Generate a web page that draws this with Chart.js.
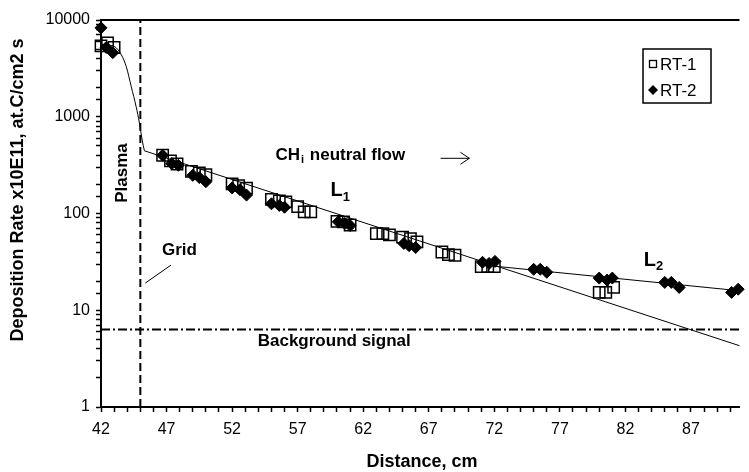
<!DOCTYPE html>
<html>
<head>
<meta charset="utf-8">
<script src="https://cdn.jsdelivr.net/npm/chart.js@4.4.1/dist/chart.umd.min.js"></script>
<style>
  html, body { margin: 0; padding: 0; background: #fff; }
  #wrap { width: 749px; height: 472px; position: relative; }
</style>
</head>
<body>
<div id="wrap"><canvas id="myChart"></canvas></div>
<script>
// RT-1 (open squares)
var rt1X = [42.0, 42.5, 43.0, 46.7, 47.3, 47.8, 48.9, 49.5, 50.0, 52.0, 52.5, 53.1, 55.0, 55.6, 56.1, 57.0, 57.5, 58.0,
            60.0, 60.5, 61.0, 63.0, 63.5, 64.0, 65.0, 65.6, 66.1, 68.0, 68.5, 69.0, 71.0, 71.5, 72.0, 80.0, 80.5, 81.1];
var rt1Y = [5400, 5800, 5200, 400, 350, 325, 272, 262, 252, 202, 194, 183, 140, 135, 132, 118, 104, 104,
            83, 82, 76, 62, 62, 60, 57, 55, 51, 40, 37.5, 37, 28.3, 28.3, 28.3, 15.3, 15.3, 17.2];
// RT-2 (filled diamonds)
var rt2X = [42.0, 42.4, 42.9, 46.7, 47.4, 47.9, 49.0, 49.5, 50.0, 52.0, 52.6, 53.1, 55.0, 55.6, 56.0, 60.1, 60.6, 61.0,
            65.1, 65.5, 66.0, 71.1, 71.6, 72.05, 75.0, 75.5, 76.0, 80.0, 80.6, 81.0, 85.0, 85.5, 86.1, 90.1, 90.6];
var rt2Y = [8300, 5200, 4600, 400, 328, 315, 248, 235, 213, 184, 176, 155, 126, 121, 116, 82, 79, 75,
            49, 46.5, 44.5, 31.3, 30.5, 32, 26.5, 26.5, 24.7, 21.5, 20.5, 21.5, 19.4, 19.4, 17.2, 15.3, 16.5];
// plasma fall-off curve, then the two fitted lines
var curveX = [42.0, 42.5, 43.05, 43.56, 43.93, 44.31, 44.68, 44.93, 45.14, 45.31];
var curveY = [5600, 5500, 5300, 4350, 3290, 2040, 1270, 861, 574, 445];
var l1X = [45.31, 90.7];
var l1Y = [445, 4.3];
var l2X = [71.5, 90.7];
var l2Y = [29.0, 15.9];
// grid position, background level, pointer to "Grid" label
var gridX = [45, 45];
var gridY = [1, 10000];
var bgX = [42, 90.7];
var bgY = [6.33, 6.33];
var ptrX = [45.38, 47.34];
var ptrY = [19.1, 29.3];

var xMin = 42, xMax = 90.7;
var yMin = 1, yMax = 10000;
var FONT = '"Liberation Sans", Arial, sans-serif';

function pts(xs, ys) {
    return xs.map(function(x, i) { return {x: x, y: ys[i]}; });
}

function lineSet(label, xs, ys, opts) {
    var d = {
        label: label,
        data: pts(xs, ys),
        showLine: true,
        borderColor: '#000',
        borderWidth: 1,
        pointRadius: 0,
        fill: false,
        order: 5,
        clip: false
    };
    for (var k in opts) d[k] = opts[k];
    return d;
}

var extras = {
    id: 'extras',
    afterDraw: function(chart) {
        var ctx = chart.ctx, xs = chart.scales.x, ys = chart.scales.y, area = chart.chartArea;
        function px(v) { return xs.getPixelForValue(v); }
        function py(v) { return ys.getPixelForValue(v); }
        ctx.save();
        ctx.strokeStyle = '#000';
        ctx.fillStyle = '#000';
        // top frame line
        ctx.lineWidth = 2;
        ctx.beginPath();
        ctx.moveTo(area.left, area.top);
        ctx.lineTo(area.right, area.top);
        ctx.stroke();

        // axis titles
        ctx.font = 'bold 18px ' + FONT;
        ctx.textAlign = 'center';
        ctx.textBaseline = 'middle';
        ctx.fillText('Distance, cm', 422, 462);
        ctx.save();
        ctx.translate(18.5, 190);
        ctx.rotate(-Math.PI / 2);
        ctx.fillText('Deposition Rate x10E11, at.C/cm2 s', 0, 0);
        ctx.restore();

        // annotations
        ctx.font = 'bold 17px ' + FONT;
        ctx.save();
        ctx.translate(px(43.62), py(262));
        ctx.rotate(-Math.PI / 2);
        ctx.fillText('Plasma', 0, 0);
        ctx.restore();
        ctx.fillText('Grid', px(47.98), py(41.9));
        ctx.fillText('Background signal', px(59.79), py(4.79));

        ctx.textAlign = 'left';
        var x0 = px(55.31), y0 = py(402);
        ctx.fillText('CH', x0, y0);
        var w = ctx.measureText('CH').width;
        ctx.font = 'bold 11px ' + FONT;
        ctx.fillText('i', x0 + w + 1, y0 + 5);
        var wi = ctx.measureText('i').width;
        ctx.font = 'bold 17px ' + FONT;
        ctx.fillText(' neutral flow', x0 + w + wi + 2, y0);

        // arrow
        var ay = py(372), ax1 = px(67.9), ax2 = px(70.1);
        ctx.lineWidth = 1;
        ctx.beginPath();
        ctx.moveTo(ax1, ay); ctx.lineTo(ax2, ay);
        ctx.moveTo(ax2 - 9, ay - 6); ctx.lineTo(ax2, ay); ctx.lineTo(ax2 - 9, ay + 6);
        ctx.stroke();

        // L1 / L2 labels
        function lab(sub, d, v) {
            var lx = px(d), ly = py(v);
            ctx.font = 'bold 20px ' + FONT;
            ctx.fillText('L', lx, ly);
            var lw = ctx.measureText('L').width;
            ctx.font = 'bold 13px ' + FONT;
            ctx.fillText(sub, lx + lw, ly + 6);
        }
        lab('1', 59.5, 171);
        lab('2', 83.4, 33);

        // legend box
        ctx.lineWidth = 1.5;
        ctx.strokeRect(643, 49, 68, 54);
        ctx.lineWidth = 1.3;
        ctx.strokeRect(649.5, 60.5, 7, 7);
        ctx.beginPath();
        ctx.moveTo(653, 85); ctx.lineTo(658, 90); ctx.lineTo(653, 95); ctx.lineTo(648, 90);
        ctx.closePath();
        ctx.fill();
        ctx.font = '17px ' + FONT;
        ctx.textAlign = 'left';
        ctx.fillText('RT-1', 660, 65);
        ctx.fillText('RT-2', 660, 91);
        ctx.restore();
    }
};

(function() {
    var canvas = document.getElementById('myChart');
    var ctx = canvas.getContext('2d');

    var myChart = new Chart(ctx, {
        type: 'scatter',
        data: {
            datasets: [
                {
                    label: 'RT-2',
                    data: pts(rt2X, rt2Y),
                    pointStyle: 'rectRot',
                    pointRadius: 6,
                    backgroundColor: '#000',
                    borderColor: '#000',
                    borderWidth: 1,
                    order: 0,
                    clip: false
                },
                {
                    label: 'RT-1',
                    data: pts(rt1X, rt1Y),
                    pointStyle: 'rect',
                    pointRadius: 8,
                    backgroundColor: 'rgba(255,255,255,0)',
                    borderColor: '#000',
                    borderWidth: 1.5,
                    order: 1,
                    clip: false
                },
                lineSet('curve', curveX, curveY, {cubicInterpolationMode: 'monotone'}),
                lineSet('L1', l1X, l1Y, {}),
                lineSet('L2', l2X, l2Y, {}),
                lineSet('Grid', gridX, gridY, {borderWidth: 2, borderDash: [8, 4]}),
                lineSet('Background', bgX, bgY, {borderWidth: 2, borderDash: [9, 3, 2, 3]}),
                lineSet('pointer', ptrX, ptrY, {})
            ]
        },
        options: {
            responsive: true,
            maintainAspectRatio: false,
            animation: false,
            layout: { padding: { left: 0, right: 0, top: 20, bottom: 0 } },
            plugins: {
                legend: { display: false },
                tooltip: { enabled: false }
            },
            scales: {
                x: {
                    type: 'linear',
                    min: xMin,
                    max: xMax,
                    afterBuildTicks: function(scale) {
                        var t = [];
                        for (var v = 42; v <= 90; v++) t.push({value: v});
                        scale.ticks = t;
                    },
                    afterFit: function(scale) { scale.height = 65; },
                    ticks: {
                        autoSkip: false,
                        maxRotation: 0,
                        padding: 8,
                        color: '#000',
                        font: { family: FONT, size: 16 },
                        callback: function(v) { return ((v - 42) % 5 === 0) ? String(v) : ''; }
                    },
                    grid: { drawOnChartArea: false, tickLength: 5, tickColor: '#000', tickWidth: 1.5 },
                    border: { color: '#000', width: 2 }
                },
                y: {
                    type: 'logarithmic',
                    min: yMin,
                    max: yMax,
                    afterFit: function(scale) { scale.width = 101; },
                    ticks: {
                        autoSkip: false,
                        padding: 6,
                        color: '#000',
                        font: { family: FONT, size: 16 },
                        callback: function(v) {
                            var l = Math.log10(v);
                            return Math.abs(l - Math.round(l)) < 1e-9 ? String(v) : '';
                        }
                    },
                    grid: { drawOnChartArea: false, tickLength: 5, tickColor: '#000', tickWidth: 1.5 },
                    border: { color: '#000', width: 2 }
                }
            }
        },
        plugins: [extras]
    });
})();
</script>
</body>
</html>
